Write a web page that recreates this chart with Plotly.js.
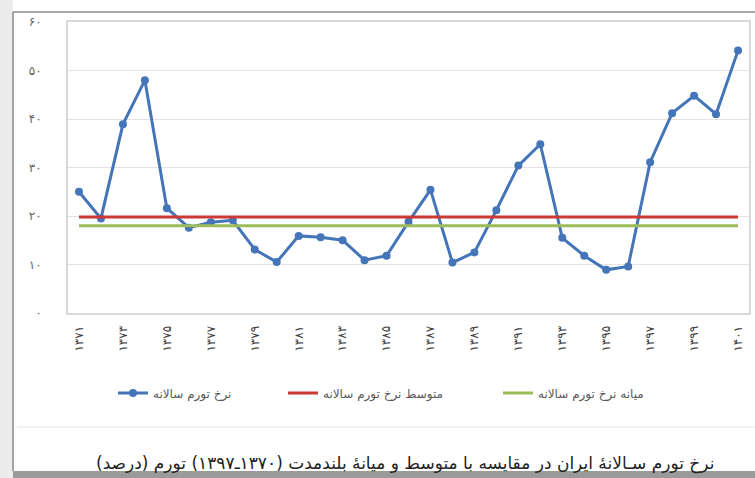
<!DOCTYPE html>
<html>
<head>
<meta charset="utf-8">
<script src="https://cdn.plot.ly/plotly-3.0.1.min.js"></script>
<style>html,body{margin:0;padding:0;background:#fff;}#chart{width:755px;height:478px;}</style>
</head>
<body>
<div id="chart"></div>
<script>
var years = ['۱۳۷۱','۱۳۷۲','۱۳۷۳','۱۳۷۴','۱۳۷۵','۱۳۷۶','۱۳۷۷','۱۳۷۸','۱۳۷۹','۱۳۸۰',
             '۱۳۸۱','۱۳۸۲','۱۳۸۳','۱۳۸۴','۱۳۸۵','۱۳۸۶','۱۳۸۷','۱۳۸۸','۱۳۸۹','۱۳۹۰',
             '۱۳۹۱','۱۳۹۲','۱۳۹۳','۱۳۹۴','۱۳۹۵','۱۳۹۶','۱۳۹۷','۱۳۹۸','۱۳۹۹','۱۴۰۰','۱۴۰۱'];
var inflation = [25.0, 19.5, 38.9, 48.0, 21.6, 17.6, 18.7, 19.1, 13.1, 10.5,
                 15.9, 15.6, 15.0, 10.9, 11.8, 18.8, 25.4, 10.4, 12.5, 21.2,
                 30.4, 34.8, 15.5, 11.8, 8.9, 9.6, 31.1, 41.2, 44.8, 41.0, 54.1];
var meanInflation = [19.8,19.8,19.8,19.8,19.8,19.8,19.8,19.8,19.8,19.8,
                     19.8,19.8,19.8,19.8,19.8,19.8,19.8,19.8,19.8,19.8,
                     19.8,19.8,19.8,19.8,19.8,19.8,19.8,19.8,19.8,19.8,19.8];
var medianInflation = [18.0,18.0,18.0,18.0,18.0,18.0,18.0,18.0,18.0,18.0,
                       18.0,18.0,18.0,18.0,18.0,18.0,18.0,18.0,18.0,18.0,
                       18.0,18.0,18.0,18.0,18.0,18.0,18.0,18.0,18.0,18.0,18.0];
var xTickVals = ['۱۳۷۱','۱۳۷۳','۱۳۷۵','۱۳۷۷','۱۳۷۹','۱۳۸۱','۱۳۸۳','۱۳۸۵',
                 '۱۳۸۷','۱۳۸۹','۱۳۹۱','۱۳۹۳','۱۳۹۵','۱۳۹۷','۱۳۹۹','۱۴۰۱'];
var yTickVals = [0, 10, 20, 30, 40, 50, 60];
var yTickText = ['۰','۱۰','۲۰','۳۰','۴۰','۵۰','۶۰'];
var seriesNames = ['نرخ تورم سالانه', 'متوسط نرخ تورم سالانه', 'میانه نرخ تورم سالانه'];
var caption = 'نرخ تورم سـالانهٔ ایران در مقایسه با متوسط و میانهٔ بلندمدت (۱۳۷۰ـ۱۳۹۷) تورم (درصد)';

var FONT = 'DejaVu Sans, Noto Sans, sans-serif';
var L = 68, R = 749, T = 22, B = 313, W = 755, H = 478;
var pw = R - L, ph = B - T;
function px(x) { return (x - L) / pw; }
function py(y) { return (B - y) / ph; }

var traces = [
  {x: years, y: inflation, name: seriesNames[0], type: 'scatter', mode: 'lines+markers',
   line: {color: '#4575b9', width: 3}, marker: {color: '#4575b9', size: 8}, legend: 'legend'},
  {x: years, y: meanInflation, name: seriesNames[1], type: 'scatter', mode: 'lines',
   line: {color: '#cc3a33', width: 3}, legend: 'legend2'},
  {x: years, y: medianInflation, name: seriesNames[2], type: 'scatter', mode: 'lines',
   line: {color: '#9dbb5a', width: 3}, legend: 'legend3'}
];

function legendAt(xpx) {
  return {orientation: 'h', x: px(xpx), xanchor: 'left', y: py(393), yanchor: 'middle',
          font: {family: FONT, size: 12, color: '#595959'}, bgcolor: 'rgba(0,0,0,0)'};
}

var layout = {
  width: W, height: H,
  margin: {l: L, r: W - R, t: T, b: H - B, pad: 0},
  paper_bgcolor: '#ffffff', plot_bgcolor: '#ffffff',
  font: {family: FONT, color: '#595959', size: 10},
  showlegend: true,
  legend: legendAt(113),
  legend2: legendAt(283),
  legend3: legendAt(498),
  xaxis: {type: 'category', range: [-0.5, 30.5], tickmode: 'array', tickvals: xTickVals,
          ticktext: xTickVals, tickangle: -90, showgrid: false, zeroline: false,
          showline: true, mirror: true, linecolor: '#d9d9d9', linewidth: 2,
          ticks: '', ticklabelstandoff: 6,
          tickfont: {family: FONT, size: 12, color: '#404040'}},
  yaxis: {range: [0, 60], tickmode: 'array', tickvals: yTickVals, ticktext: yTickText,
          showgrid: true, gridcolor: '#e3e3e3', gridwidth: 1, zeroline: false,
          showline: true, mirror: true, linecolor: '#d9d9d9', linewidth: 2,
          ticks: '', ticklabelstandoff: 22,
          tickfont: {family: FONT, size: 12, color: '#666666'}},
  shapes: [
    {type: 'rect', xref: 'paper', yref: 'paper', x0: px(0), x1: px(13), y0: py(478), y1: py(0),
     fillcolor: '#ececec', line: {width: 0}, layer: 'below'},
    {type: 'line', xref: 'paper', yref: 'paper', x0: px(17), x1: px(755), y0: py(427), y1: py(427),
     line: {color: '#ececec', width: 1.5}},
    {type: 'rect', xref: 'paper', yref: 'paper', x0: px(13), x1: px(755), y0: py(478), y1: py(471),
     fillcolor: '#9a9a9a', line: {width: 0}},
    {type: 'line', xref: 'paper', yref: 'paper', x0: px(13), x1: px(13), y0: py(471), y1: py(12),
     line: {color: '#8a8a8a', width: 1.5}},
    {type: 'line', xref: 'paper', yref: 'paper', x0: px(13), x1: px(755), y0: py(12), y1: py(12),
     line: {color: '#8a8a8a', width: 1.5}}
  ],
  annotations: [
    {text: caption, xref: 'paper', yref: 'paper', x: px(405), y: py(463), xanchor: 'center',
     yanchor: 'middle', showarrow: false, font: {family: FONT, size: 17, color: '#222222'}}
  ]
};

Plotly.newPlot('chart', traces, layout, {displayModeBar: false, staticPlot: true});
</script>
</body>
</html>
